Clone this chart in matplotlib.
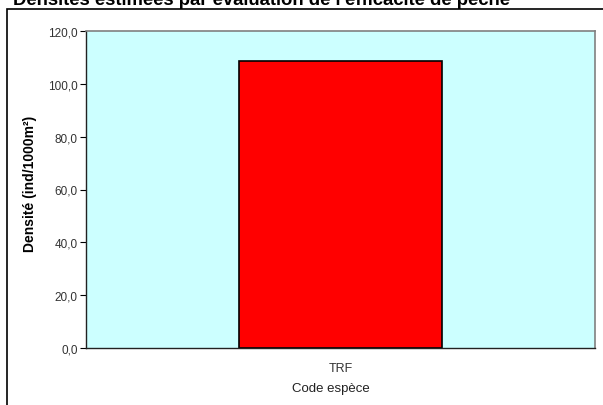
import matplotlib
matplotlib.use("Agg")
from matplotlib import pyplot as plt
from matplotlib.patches import Rectangle
from matplotlib.ticker import FuncFormatter, MultipleLocator

# données
especes = ["TRF"]
densites = [108.8]

plt.rcParams['font.family'] = ['Liberation Sans', 'DejaVu Sans']

fig = plt.figure(figsize=(6.03, 4.06), dpi=100)
ax = fig.add_axes([86/603, 1 - 349/406, (595 - 86)/603, (349 - 32)/406])

# fond cyan de la zone de tracé
ax.set_facecolor('#CCFFFF')
ax.bar(range(len(especes)), densites, width=0.4, color='#FF0000',
       edgecolor='black', linewidth=1.2, zorder=2)

ax.set_xlim(-0.5, len(especes) - 0.5)
ax.set_ylim(0, 120)
ax.yaxis.set_major_locator(MultipleLocator(20))
ax.yaxis.set_major_formatter(FuncFormatter(lambda v, p: f"{v:.1f}".replace('.', ',')))
ax.set_xticks(range(len(especes)))
ax.set_xticklabels(especes)

ax.tick_params(axis='y', labelsize=8.5, length=4, width=0.8, color='black',
               labelcolor='#333333', pad=2)
ax.tick_params(axis='x', labelsize=9, length=0, pad=10, labelcolor='#333333')

for s in ['top', 'right']:
    ax.spines[s].set_color('#808080')
    ax.spines[s].set_linewidth(1.2)
for s in ['left', 'bottom']:
    ax.spines[s].set_color('#222222')
    ax.spines[s].set_linewidth(1.0)

ax.set_ylabel("Densité (ind/1000m²)", fontsize=10, fontweight='bold')
ax.yaxis.set_label_coords(-0.097, 0.52)
ax.set_xlabel("Code espèce", fontsize=9.5, color='#222222')
ax.xaxis.set_label_coords(0.481, -0.106)

# cadre du graphique (coupé à droite et en bas)
fig.patches.append(Rectangle((7/603, -0.1), 1.2, (406 - 10)/406 + 0.1, fill=False,
                             edgecolor='black', linewidth=1.2, transform=fig.transFigure))

# titre coupé en haut
fig.text(13/603, 1 - 5/406, "Densités estimées par évaluation de l'efficacité de pêche",
         fontsize=13.3, fontweight='bold', ha='left', va='baseline')

fig.savefig("out.png", dpi=100)
